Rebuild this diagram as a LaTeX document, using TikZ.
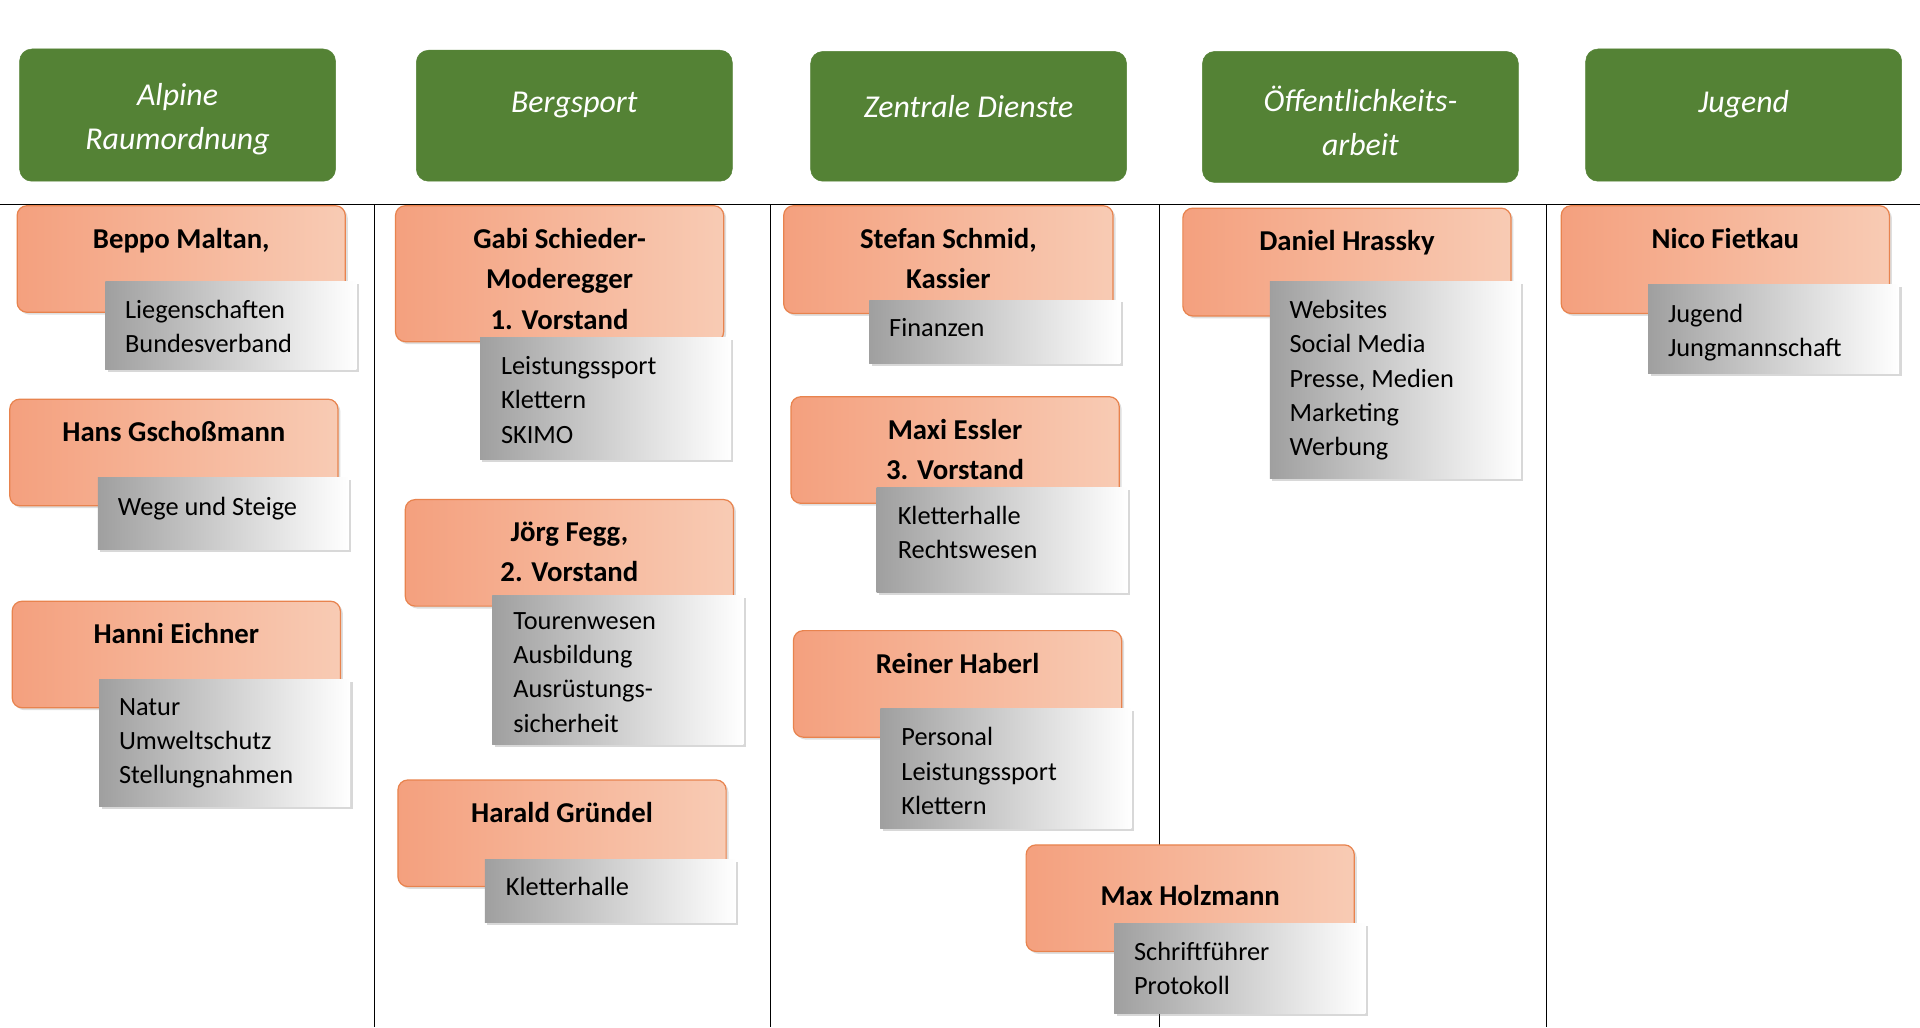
\documentclass[tikz,border=0pt]{standalone}
\usepackage{fontspec}
\setmainfont{Carlito}
\usetikzlibrary{shadows}
\definecolor{hgreen}{HTML}{548235}
\definecolor{oborder}{HTML}{E8834E}
\definecolor{odark}{HTML}{F4A07E}
\definecolor{olight}{HTML}{F8CBB4}
\tikzset{
  hdr/.style={draw=hgreen,fill=hgreen,rounded corners=10pt,text=white,align=center,font=\fontsize{26}{36}\selectfont\itshape},
  obox/.style={draw=oborder,line width=1pt,rounded corners=8pt,left color=odark,right color=olight,drop shadow={opacity=0.25,shadow xshift=2pt,shadow yshift=-2pt}},
  gbox/.style={draw=none,fill=gray!60,left color=gray!75,right color=white,drop shadow={opacity=0.3,shadow xshift=2pt,shadow yshift=-2pt}},
  nm/.style={font=\fontsize{23.5}{33}\selectfont\bfseries,align=center,anchor=north,inner sep=0pt},
  gt/.style={font=\fontsize{21.5}{28}\selectfont,align=left,anchor=north west,inner sep=0pt},
  sep/.style={line width=1pt,black}
}
\newcommand\mkbox[6]{\node[#2,minimum width={#5-#3},minimum height={#6-#4},inner sep=0pt] (#1) at ({(#3+#5)/2},{(#4+#6)/2}) {};}
\newcommand\person[9]{%
  \mkbox{#1o}{obox}{#2}{#3}{#4}{#5}
  \node[nm] (#1n) at ({(#2+#4)/2},{#3+18}) {#6};
  \mkbox{#1g}{gbox}{#7}{#8}{#7+205}{#9}
}
\begin{document}
\begin{tikzpicture}[x=1pt,y=-1pt]
\useasboundingbox (0,0) rectangle (1568,839);
\fill[white] (0,0) rectangle (1568,839);
% headers
\mkbox{h1}{hdr}{16}{40}{274}{148}
\node[hdr,draw=none,fill=none] (h1t) at (145,97) {Alpine\\Raumordnung};
\mkbox{h2}{hdr}{340}{41}{598}{148}
\node[hdr,draw=none,fill=none] (h2t) at (469,86) {Bergsport};
\mkbox{h3}{hdr}{662}{42}{920}{148}
\node[hdr,draw=none,fill=none] (h3t) at (791,87) {Zentrale Dienste};
\mkbox{h4}{hdr}{982}{42}{1240}{149}
\node[hdr,draw=none,fill=none] (h4t) at (1111,99) {Öffentlichkeits-\\arbeit};
\mkbox{h5}{hdr}{1295}{40}{1553}{148}
\node[hdr,draw=none,fill=none] (h5t) at (1424,85) {Jugend};
% lines
\coordinate (l0) at (0,167); \coordinate (l1) at (1568,167);
\draw[sep] (l0) -- (l1);
\foreach \x/\n in {306/a,629/b,947/c,1263/d}{
  \coordinate (t\n) at (\x,167); \coordinate (b\n) at (\x,839);
  \draw[sep] (t\n) -- (b\n);}
% column 1
\person{p1}{14}{168}{282}{255}{Beppo Maltan,}{86}{230}{302}
\node[gt] (p1t) at (102,245) {Liegenschaften\\Bundesverband};
\person{p2}{8}{326}{276}{413}{Hans Gschoßmann}{80}{390}{449}
\node[gt] (p2t) at (96,406) {Wege und Steige};
\person{p3}{10}{491}{278}{578}{Hanni Eichner}{81}{555}{659}
\node[gt] (p3t) at (97,570) {Natur\\Umweltschutz\\Stellungnahmen};
% column 2
\person{p4}{323}{168}{591}{279}{Gabi Schieder-\\Moderegger\\1. Vorstand}{392}{276}{375}
\node[gt] (p4t) at (409,291) {Leistungssport\\Klettern\\SKIMO};
\person{p5}{331}{408}{599}{495}{Jörg Fegg,\\2. Vorstand}{402}{486}{608}
\node[gt] (p5t) at (419,500) {Tourenwesen\\Ausbildung\\Ausrüstungs-\\sicherheit};
\person{p6}{325}{637}{593}{724}{Harald Gründel}{396}{702}{753}
\node[gt] (p6t) at (413,716) {Kletterhalle};
% column 3
\person{p7}{640}{168}{909}{256}{Stefan Schmid,\\Kassier}{710}{245}{297}
\node[gt] (p7t) at (726,260) {Finanzen};
\person{p8}{646}{324}{914}{411}{Maxi Essler\\3. Vorstand}{716}{398}{484}
\node[gt] (p8t) at (733,413) {Kletterhalle\\Rechtswesen};
\person{p9}{648}{515}{916}{602}{Reiner Haberl}{719}{579}{677}
\node[gt] (p9t) at (736,594) {Personal\\Leistungssport\\Klettern};
\mkbox{p10o}{obox}{838}{690}{1106}{777}
\node[nm] (p10n) at (972,723) {Max Holzmann};
\mkbox{p10g}{gbox}{910}{754}{1115}{828}
\node[gt] (p10t) at (926,769) {Schriftführer\\Protokoll};
% column 4
\person{p11}{966}{170}{1234}{258}{Daniel Hrassky}{1037}{230}{391}
\node[gt] (p11t) at (1053,245) {Websites\\Social Media\\Presse, Medien\\Marketing\\Werbung};
% column 5
\person{p12}{1275}{168}{1543}{256}{Nico Fietkau}{1346}{232}{305}
\node[gt] (p12t) at (1362,248) {Jugend\\Jungmannschaft};
\end{tikzpicture}
\end{document}
